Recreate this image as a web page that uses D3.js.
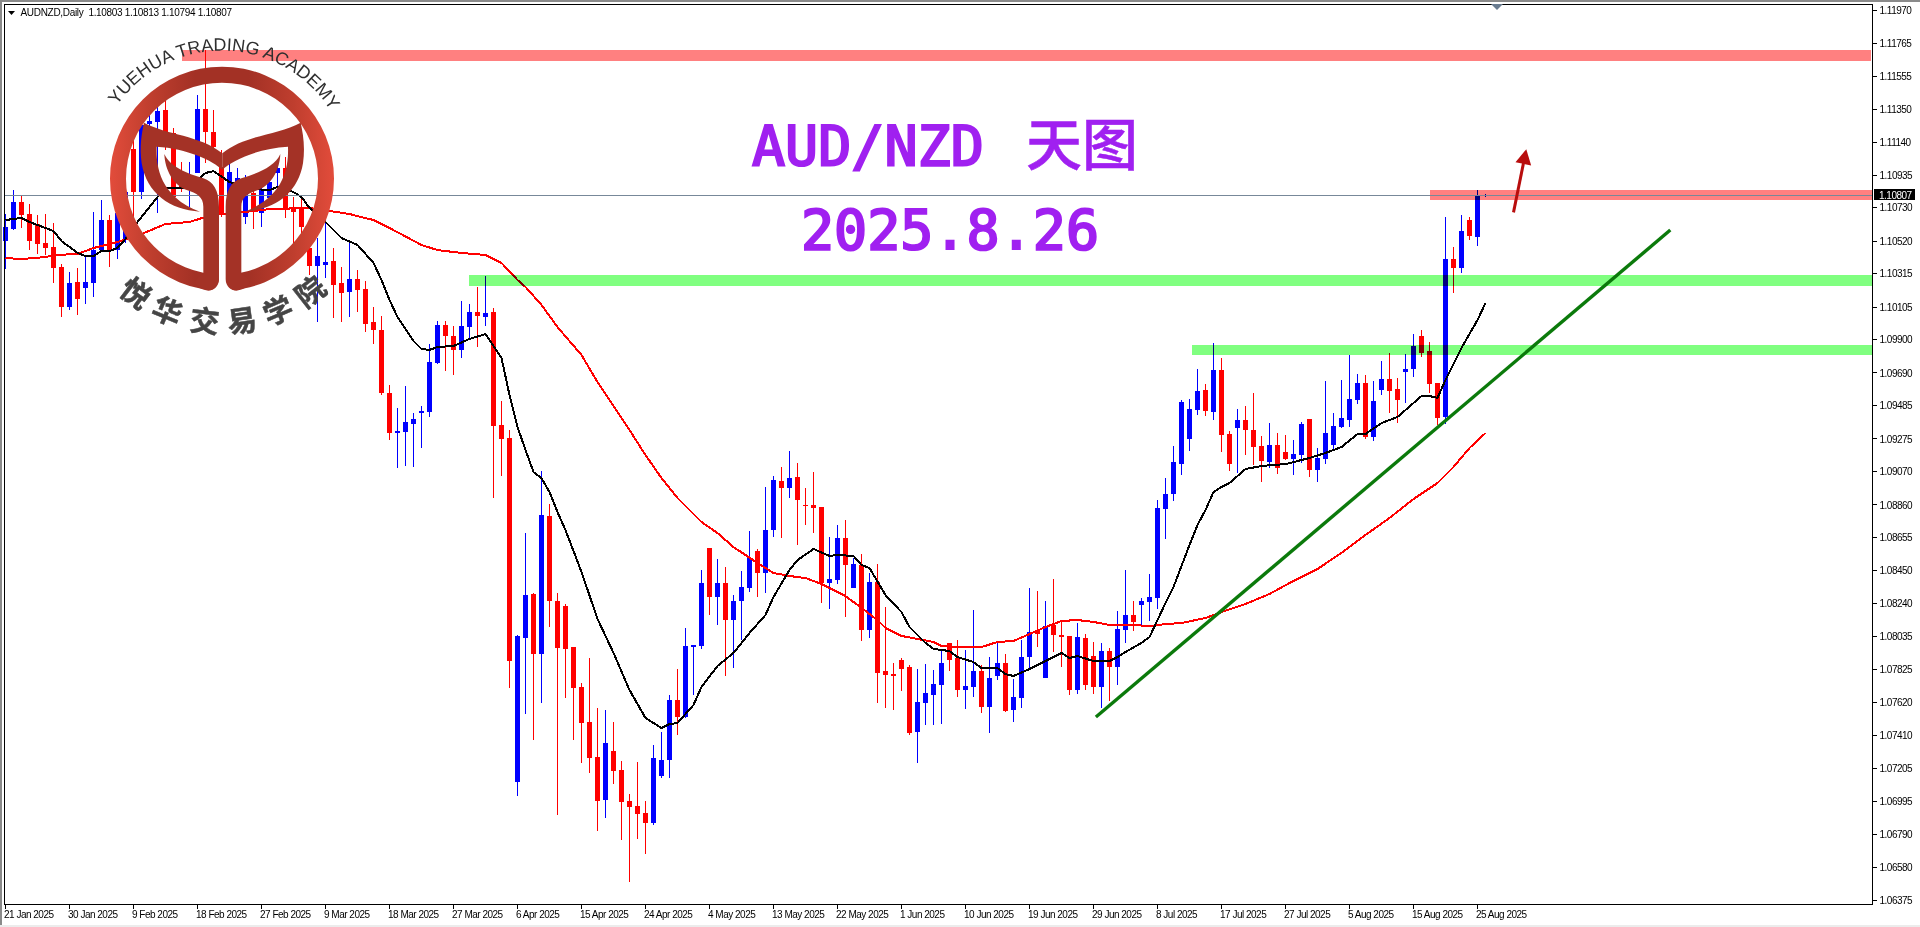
<!DOCTYPE html>
<html>
<head>
<meta charset="utf-8">
<title>AUD/NZD Daily</title>
<script src="https://cdnjs.cloudflare.com/ajax/libs/d3/7.8.5/d3.min.js"></script>
<style>
html,body{margin:0;padding:0;background:#fff;overflow:hidden}
svg{display:block}
.ax text{font-family:"Liberation Sans",Arial,sans-serif;font-size:10px;fill:#000;letter-spacing:-.5px}
</style>
</head>
<body>
<div id="chart"></div>
<script>
// All prices are in 1e-5 units (110807 = 1.10807)
const opens=[110520,110596,110765,110690,110627,110508,110482,110357,110105,110262,110224,110256,110463,110652,110463,110526,111099,110828,111256,111269,111344,111199,110904,110860,110948,111350,111206,110986,110747,110822,110671,110822,110696,110791,110948,110979,110734,110721,110476,110363,110369,110394,110256,110199,110281,110218,110011,109960,109564,109312,109319,109369,109438,109445,109753,109992,109923,109835,109979,110074,110042,110074,109363,109281,107117,108023,108300,107922,108790,108256,108224,107966,107715,107495,107274,107004,107312,107193,106998,106966,106922,106859,107155,107256,107633,107526,107966,107973,108589,108281,108369,108136,108256,108338,108570,108432,108702,109010,108967,109036,108860,108860,108847,108369,108388,108652,108338,108482,108073,108375,107815,107796,107885,107841,107432,107614,107664,107727,107992,107897,107696,107715,107815,107589,107784,107866,107570,107646,107903,108067,107771,108105,108042,108036,107696,108023,107910,107715,107941,107841,108073,108168,108231,108249,108275,108834,108929,109117,109275,109457,109583,109445,109709,109306,109344,109394,109331,109231,109130,109237,109193,109149,109174,109400,109080,109149,109237,109350,109394,109520,109627,109287,109583,109652,109589,109696,109715,109923,109828,109627,109413,110407,110350,110652,110545,110803];
const highs=[110690,110841,110803,110753,110684,110690,110633,110375,110325,110350,110432,110703,110778,110684,110778,110904,111218,111281,111344,111407,111407,111231,111017,111017,111438,111722,111344,111092,111030,110979,110935,110860,110948,110954,111011,111048,110797,110809,110652,110539,110652,110476,110357,110520,110338,110268,110105,110048,109614,109470,109608,109438,109482,109872,110017,110017,109985,110143,110124,110231,110300,110099,109514,109331,108042,108683,108306,109073,108866,108306,108237,107966,107740,107897,107583,107570,107495,107249,107042,107243,106998,107350,107432,107664,107828,108086,107979,108451,108589,108520,108470,108293,108444,108696,108583,108973,109042,109099,109199,109124,108967,109067,108847,108658,108734,108765,108526,108551,108432,108488,108218,107866,107897,107853,107828,107859,107821,107947,107992,108010,107947,108199,107853,107903,108004,107922,107765,108010,108338,108319,108256,108394,108130,108036,108117,108048,107998,107992,107960,108193,108451,108256,108275,108426,108891,109029,109231,109520,109526,109715,109621,109879,109784,109325,109463,109482,109564,109294,109375,109312,109300,109268,109382,109400,109218,109640,109438,109646,109803,109684,109677,109640,109765,109816,109658,109809,109935,109960,109885,109627,110671,110482,110684,110671,110841,110813];
const lows=[110344,110589,110602,110463,110438,110432,110256,110042,110086,110055,110124,110168,110451,110357,110407,110508,110652,110784,111187,110696,111092,110778,110828,110734,110948,111011,111011,110671,110684,110747,110627,110596,110608,110759,110841,110665,110495,110526,110306,110011,110287,110036,110011,110042,110074,109948,109872,109551,109268,109092,109105,109099,109218,109413,109746,109702,109677,109784,109904,109853,109985,108904,109042,107708,107029,107545,107381,107614,108092,106910,107646,107381,107237,107174,106809,106891,107105,106752,106488,106759,106664,106847,107142,107142,107413,107520,107664,107954,108168,108105,107784,107834,108010,108312,108281,108306,108658,108652,108904,108608,108734,108683,108243,108205,108363,108155,108338,108004,108023,107614,107583,107570,107690,107413,107237,107476,107476,107482,107815,107652,107576,107652,107551,107425,107759,107558,107495,107583,107834,107966,107771,107935,107841,107664,107671,107696,107671,107583,107627,107727,107992,108067,108105,108130,108205,108646,108885,109048,109199,109426,109419,109394,109193,109073,109061,109174,109111,109004,109092,109055,109143,109048,109124,109036,109004,109117,109206,109344,109350,109495,109275,109262,109551,109438,109375,109501,109665,109790,109564,109363,109369,110193,110319,110526,110489,110794];
const closes=[110608,110765,110684,110520,110501,110476,110350,110105,110256,110155,110262,110463,110652,110463,110696,110828,110828,111250,111275,111338,111206,110797,110860,110904,111350,111206,111111,110696,110954,110916,110822,110703,110841,110891,110979,110728,110703,110608,110363,110426,110388,110243,110193,110281,110212,109998,109960,109564,109312,109325,109382,109400,109451,109759,109992,109923,109835,109985,110074,110048,110067,109356,109275,107878,108036,108293,107922,108797,108256,107960,107954,107708,107488,107268,106998,107362,107186,106992,106960,106916,106859,107268,107256,107633,107526,107973,107979,108369,108281,108369,108136,108256,108344,108526,108432,108702,109017,108967,109029,108891,108853,108841,108369,108394,108652,108482,108488,108073,108375,107803,107790,107784,107828,107425,107620,107677,107734,107866,107885,107696,107721,107815,107589,107771,107866,107564,107652,107903,108061,108048,108098,108042,108029,107696,108029,107727,107715,107941,107841,108080,108168,108124,108256,108281,108841,108929,109130,109507,109463,109577,109451,109709,109300,109117,109394,109331,109224,109136,109237,109092,109149,109180,109369,109080,109155,109312,109356,109407,109526,109627,109287,109514,109652,109577,109520,109715,109860,109816,109621,109407,110407,110350,110583,110552,110803,110807];

// Fast moving average, read at these bars
const fastBars=[0,2,3,6,7,9,10,11,12,13,14,15,16,19,20,23,25,26,28,31,33,34,36,37,38,40,42,44,46,47,48,49,51,52,53,54,56,58,60,62,63,64,65,66,67,68,69,70,72,74,76,78,80,82,83,84,86,87,89,91,93,95,96,98,99,101,103,104,106,107,108,110,112,113,115,116,118,119,121,122,124,125,126,128,130,132,133,134,136,138,139,140,142,143,144,145,146,147,148,149,150,151,152,153,155,157,160,163,165,167,169,170,172,174,177,178,179,180,182,184,185];
const fastMA=[110652,110665,110640,110583,110520,110445,110426,110426,110457,110457,110476,110533,110608,110797,110853,110853,110948,110960,110891,110847,110841,110860,110828,110797,110728,110640,110539,110495,110382,110275,110149,110042,109891,109841,109835,109853,109860,109904,109935,109784,109551,109350,109206,109067,109029,108941,108815,108702,108438,108143,107929,107696,107520,107457,107482,107488,107602,107715,107847,107929,108055,108168,108281,108451,108513,108583,108539,108545,108539,108482,108463,108293,108186,108092,107992,107954,107941,107903,107872,107834,107834,107796,107784,107828,107878,107929,107897,107910,107878,107878,107903,107935,107992,108029,108136,108243,108344,108476,108608,108734,108828,108941,108973,108998,109086,109105,109117,109155,109187,109224,109306,109306,109375,109413,109545,109545,109533,109646,109847,110023,110130];

// Slow moving average, read at these bars
const slowBars=[0,2,5,6,9,11,14,17,20,23,25,27,30,33,38,43,44,46,48,52,54,57,60,62,64,65,67,69,72,74,76,78,80,82,84,87,89,91,94,96,98,100,102,105,107,109,110,112,114,116,117,119,122,124,126,128,130,132,134,136,138,141,143,145,147,150,152,155,158,161,164,167,170,173,176,179,181,183,185];
const slowMA=[110413,110407,110419,110432,110438,110476,110514,110564,110627,110640,110671,110690,110703,110721,110728,110690,110677,110652,110602,110495,110463,110445,110432,110382,110275,110231,110118,109979,109803,109633,109482,109331,109174,109029,108904,108753,108683,108595,108495,108432,108413,108400,108363,108287,108212,108136,108086,108036,108017,107998,107973,107966,107966,107998,108004,108048,108092,108130,108136,108124,108105,108105,108098,108111,108117,108149,108186,108237,108300,108382,108457,108558,108671,108778,108897,108998,109099,109218,109312];

const axisPrices=[1.11970,1.11765,1.11555,1.11350,1.11140,1.10935,1.10730,1.10520,1.10315,1.10105,1.09900,1.09690,1.09485,1.09275,1.09070,1.08860,1.08655,1.08450,1.08240,1.08035,1.07825,1.07620,1.07410,1.07205,1.06995,1.06790,1.06580,1.06375];
const dateLabels=["21 Jan 2025","30 Jan 2025","9 Feb 2025","18 Feb 2025","27 Feb 2025","9 Mar 2025","18 Mar 2025","27 Mar 2025","6 Apr 2025","15 Apr 2025","24 Apr 2025","4 May 2025","13 May 2025","22 May 2025","1 Jun 2025","10 Jun 2025","19 Jun 2025","29 Jun 2025","8 Jul 2025","17 Jul 2025","27 Jul 2025","5 Aug 2025","15 Aug 2025","25 Aug 2025"];
const barsPerDateLabel=8;

// Support / resistance zones: start bar, end bar, top price, bottom price
const zoneStart=[22, 178, 57.9, 148.3];
const zoneEnd=[233.2, 233.4, 233.4, 233.4];
const zoneTop=[111722,110841,110306,109866];
const zoneBottom=[111652,110778,110237,109803];
const zoneColor=["#ff8080","#ff8080","#80ff80","#80ff80"];

const trendBars=[136.3,208.1];
const trendPrices=[107526,110589];
const arrowBars=[188.5,190.1];
const arrowPrices=[110700,111098];

const symbolHeader="AUDNZD,Daily  1.10803 1.10813 1.10794 1.10807";
const lastPrice=110807;
const titleLine1="AUD/NZD";
const titleLine1Cn="天图";
const titleLine2="2025.8.26";
const logoEn="YUEHUA TRADING ACADEMY";
const logoCn=["悦","华","交","易","学","院"];
const logoCnAngles=[37,22.5,7,-8,-23,-38];

const W=1920,H=927;
const L=4,T=4,R=1872,B=904;
const x=d3.scaleLinear().domain([0,185]).range([5.5,1485.5]);
const y=d3.scaleLinear().domain([1.1197,1.06375]).range([10.5,900]);
const py=p=>y(p/1e5);
const UP="#0000ff",DOWN="#ff0000";

const svg=d3.select("#chart").append("svg").attr("width",W).attr("height",H).attr("viewBox",`0 0 ${W} ${H}`);
svg.append("rect").attr("width",W).attr("height",H).attr("fill","#fff");
// window chrome
svg.append("rect").attr("x",0).attr("y",0).attr("width",W).attr("height",2).attr("fill","#8a8a8a");
svg.append("rect").attr("x",0).attr("y",0).attr("width",2).attr("height",925).attr("fill","#8a8a8a");
svg.append("rect").attr("x",0).attr("y",925).attr("width",W).attr("height",2).attr("fill","#ececec");

const plot=svg.append("g");
const bars=d3.range(opens.length);

// wicks and bodies
plot.append("g").attr("shape-rendering","crispEdges").selectAll("rect").data(bars).join("rect")
  .attr("x",i=>x(i)-.5).attr("width",1)
  .attr("y",i=>Math.round(py(highs[i])))
  .attr("height",i=>Math.max(1,Math.round(py(lows[i]))-Math.round(py(highs[i]))))
  .attr("fill",i=>closes[i]>=opens[i]?UP:DOWN);
plot.append("g").attr("shape-rendering","crispEdges").selectAll("rect").data(bars).join("rect")
  .attr("x",i=>x(i)-2.5).attr("width",5)
  .attr("y",i=>Math.round(py(Math.max(opens[i],closes[i]))))
  .attr("height",i=>Math.max(1,Math.round(py(Math.min(opens[i],closes[i])))-Math.round(py(Math.max(opens[i],closes[i])))))
  .attr("fill",i=>closes[i]>=opens[i]?UP:DOWN);

// moving averages
const lineOf=(idx,vals)=>d3.line().x(k=>x(idx[k])).y(k=>py(vals[k]))(d3.range(idx.length));
plot.append("path").attr("d",lineOf(slowBars,slowMA)).attr("fill","none").attr("stroke","#ff0000").attr("stroke-width",2).attr("shape-rendering","crispEdges");
plot.append("path").attr("d",lineOf(fastBars,fastMA)).attr("fill","none").attr("stroke","#000").attr("stroke-width",2).attr("shape-rendering","crispEdges");

// zones multiply over the candles
plot.append("g").selectAll("rect").data(d3.range(zoneTop.length)).join("rect")
  .attr("shape-rendering","crispEdges")
  .attr("x",k=>x(zoneStart[k])).attr("width",k=>x(zoneEnd[k])-x(zoneStart[k]))
  .attr("y",k=>py(zoneTop[k])).attr("height",k=>py(zoneBottom[k])-py(zoneTop[k]))
  .attr("fill",k=>zoneColor[k]).style("mix-blend-mode","multiply");

// last price line
svg.append("line").attr("shape-rendering","crispEdges").attr("x1",L).attr("x2",R)
  .attr("y1",Math.floor(py(lastPrice))+.5).attr("y2",Math.floor(py(lastPrice))+.5).attr("stroke","#778899");

// trend line & arrow
svg.append("line").attr("x1",x(trendBars[0])).attr("y1",py(trendPrices[0])).attr("x2",x(trendBars[1])).attr("y2",py(trendPrices[1]))
  .attr("stroke","#0b7a0b").attr("stroke-width",3.4);
const ax0=[x(arrowBars[0]),py(arrowPrices[0])],ax1=[x(arrowBars[1]),py(arrowPrices[1])];
const ang=Math.atan2(ax1[1]-ax0[1],ax1[0]-ax0[0]);
svg.append("line").attr("x1",ax0[0]).attr("y1",ax0[1]).attr("x2",ax1[0]-6*Math.cos(ang)).attr("y2",ax1[1]-6*Math.sin(ang)).attr("stroke","#b80d0d").attr("stroke-width",3);
const hl=15,hw=8;
const hb=[ax1[0]-hl*Math.cos(ang),ax1[1]-hl*Math.sin(ang)];
svg.append("path").attr("fill","#b80d0d").attr("d",`M${ax1[0]},${ax1[1]}L${hb[0]-hw*Math.sin(ang)},${hb[1]+hw*Math.cos(ang)}L${hb[0]+hw*Math.sin(ang)},${hb[1]-hw*Math.cos(ang)}Z`);

// frame
svg.append("rect").attr("x",L+.5).attr("y",T+.5).attr("width",R-L).attr("height",B-T).attr("fill","none").attr("stroke","#000").attr("shape-rendering","crispEdges");

// axes
const right=d3.axisRight(y).tickValues(axisPrices).tickFormat(d3.format(".5f")).tickSize(4).tickPadding(3).offset(0);
const gr=svg.append("g").attr("class","ax").attr("transform",`translate(${R+.5},0)`).call(right);
gr.select(".domain").remove();
gr.selectAll("line").attr("stroke","#000").attr("shape-rendering","crispEdges");
gr.selectAll("text").attr("dy","0.36em");

const bottom=d3.axisBottom(x).tickValues(dateLabels.map((_,k)=>k*barsPerDateLabel)).tickFormat(v=>dateLabels[v/barsPerDateLabel]).tickSize(4).tickPadding(2).offset(0);
const gb=svg.append("g").attr("class","ax").attr("transform",`translate(0,${B+.5})`).call(bottom);
gb.select(".domain").remove();
gb.selectAll("line").attr("stroke","#000").attr("shape-rendering","crispEdges");
gb.selectAll("text").attr("text-anchor","start").attr("x",-1.5);

// last price tag
const tagY=py(lastPrice);
svg.append("rect").attr("x",1874).attr("y",Math.round(tagY)-6).attr("width",41).attr("height",11).attr("fill","#000");
svg.append("text").attr("x",1879).attr("y",tagY+3.5).attr("fill","#fff").attr("font-family","Liberation Sans,Arial,sans-serif").attr("font-size",10).attr("letter-spacing","-.5px").text((lastPrice/1e5).toFixed(5));

// header
svg.append("path").attr("d","M8,11L15,11L11.5,15Z").attr("fill","#000");
svg.append("text").attr("x",20.5).attr("y",16).style("white-space","pre").attr("fill","#000").attr("font-family","Liberation Sans,Arial,sans-serif").attr("font-size",10).attr("letter-spacing","-.31px").text(symbolHeader);
// chart shift marker
svg.append("path").attr("d","M1491,4L1503,4L1497,10Z").attr("fill","#6a7c90");

// title
const PURPLE="#a020f0";
const title=svg.append("g").attr("fill",PURPLE).attr("stroke",PURPLE).attr("stroke-width",2.2).attr("font-family","'DejaVu Sans Mono',monospace").attr("font-size",55);
title.append("text").attr("x",752).attr("y",165).text(titleLine1);
title.append("text").attr("x",1026).attr("y",165).attr("font-family","'Noto Sans CJK SC',sans-serif").attr("font-weight",500).attr("stroke-width",.5).attr("font-size",56).text(titleLine1Cn);
title.append("text").attr("x",801).attr("y",249).text(titleLine2);

// academy watermark (logo artwork, drawn in 3x units)
const defs=svg.append("defs");
const g=defs.append("linearGradient").attr("id","ringGrad").attr("x1",0).attr("x2",1).attr("y1",0).attr("y2",0);
[[0,"#e24c3b"],[.18,"#bf3e2e"],[.38,"#a33125"],[.62,"#a33125"],[.82,"#bf3e2e"],[1,"#e24c3b"]].forEach(s=>g.append("stop").attr("offset",s[0]).attr("stop-color",s[1]));
const logo=svg.append("g").attr("transform","scale(0.33333)");
const cx=666,cy=536,Ro=336,Ri=288;
const circ=(r)=>`M${cx-r},${cy}A${r},${r} 0 1 0 ${cx+r},${cy}A${r},${r} 0 1 0 ${cx-r},${cy}Z`;
logo.append("path").attr("d",circ(Ro)+circ(Ri)).attr("fill-rule","evenodd").attr("fill","url(#ringGrad)");
logo.append("path").attr("fill","#fff").attr("d","M657,800L657,838Q655,860 628,875L706,875Q680,860 678,838L678,800Z");
const half=logo.append("g").attr("fill","#a43226");
const leafOuter="M432,368C500,405 600,405 667,460L667,510C640,482 560,445 470,440C468,500 480,590 600,635C510,630 440,580 425,490C418,440 425,400 432,368Z";
const leafStem="M493,462C510,500 560,520 610,535C640,545 657,570 657,620L657,838C657,860 640,872 625,872C600,868 560,850 610,822L610,620C610,590 590,580 560,570C520,555 495,510 493,462Z";
half.append("path").attr("d",leafOuter);
half.append("path").attr("d",leafStem);
const half2=logo.append("g").attr("fill","#a43226").attr("transform","translate(1334,0) scale(-1,1)");
half2.append("path").attr("d",leafOuter);
half2.append("path").attr("d",leafStem);

const rEn=384;
defs.append("path").attr("id","enArc").attr("d",`M${cx-rEn},${cy}A${rEn},${rEn} 0 0 1 ${cx+rEn},${cy}`);
logo.append("text").attr("font-family","Liberation Sans,Arial,sans-serif").attr("font-size",54).attr("fill","#2f2f2f").attr("text-anchor","middle")
  .append("textPath").attr("href","#enArc").attr("startOffset","50.8%").text(logoEn);
const rCn=424;
logo.append("g").selectAll("text").data(logoCn).join("text")
  .attr("font-family","'Noto Sans CJK SC',sans-serif").attr("font-weight",700).attr("font-size",88).attr("fill","#454545").attr("stroke","#454545").attr("stroke-width",1.5).attr("text-anchor","middle").attr("dominant-baseline","central")
  .attr("transform",(d,k)=>{const a=logoCnAngles[k]*Math.PI/180;return `translate(${cx-rCn*Math.sin(a)},${cy+rCn*Math.cos(a)}) rotate(${logoCnAngles[k]})`;})
  .text(d=>d);
</script>
</body>
</html>
